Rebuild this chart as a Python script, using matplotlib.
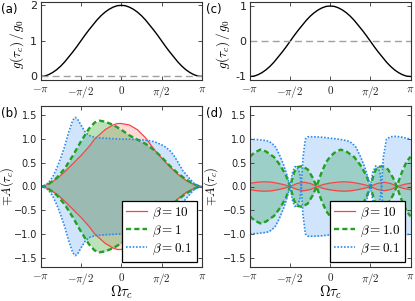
import numpy as np
import matplotlib
matplotlib.use("Agg")
import matplotlib.pyplot as plt

# ---------------- data (x in units of pi) ----------------
g_x = [-1.0, -0.95, -0.9, -0.85, -0.8, -0.75, -0.7, -0.65, -0.6, -0.55, -0.5,
       -0.45, -0.4, -0.35, -0.3, -0.25, -0.2, -0.15, -0.1, -0.05, 0.0,
       0.05, 0.1, 0.15, 0.2, 0.25, 0.3, 0.35, 0.4, 0.45, 0.5,
       0.55, 0.6, 0.65, 0.7, 0.75, 0.8, 0.85, 0.9, 0.95, 1.0]
g_a = [0.0, 0.01, 0.05, 0.11, 0.19, 0.29, 0.41, 0.55, 0.69, 0.84, 1.0,
       1.16, 1.31, 1.45, 1.59, 1.71, 1.81, 1.89, 1.95, 1.99, 2.0,
       1.99, 1.95, 1.89, 1.81, 1.71, 1.59, 1.45, 1.31, 1.16, 1.0,
       0.84, 0.69, 0.55, 0.41, 0.29, 0.19, 0.11, 0.05, 0.01, 0.0]
g_c = [-1.0, -0.99, -0.95, -0.89, -0.81, -0.71, -0.59, -0.45, -0.31, -0.16, 0.0,
       0.16, 0.31, 0.45, 0.59, 0.71, 0.81, 0.89, 0.95, 0.99, 1.0,
       0.99, 0.95, 0.89, 0.81, 0.71, 0.59, 0.45, 0.31, 0.16, 0.0,
       -0.16, -0.31, -0.45, -0.59, -0.71, -0.81, -0.89, -0.95, -0.99, -1.0]

# panel (b) upper envelopes A(tau_c)
b10_x = [-1.0, -0.95, -0.9, -0.8, -0.7, -0.6, -0.5, -0.4, -0.33, -0.2, -0.1, -0.05,
         0.0, 0.1, 0.2, 0.3, 0.4, 0.5, 0.6, 0.7, 0.8, 0.9, 0.95, 1.0]
b10_y = [0.0, 0.015, 0.05, 0.16, 0.31, 0.48, 0.65, 0.84, 1.0, 1.2, 1.3, 1.33,
         1.33, 1.3, 1.2, 1.03, 0.8, 0.6, 0.42, 0.26, 0.13, 0.04, 0.012, 0.0]
b1_x = [-1.0, -0.95, -0.9, -0.8, -0.7, -0.6, -0.5, -0.4, -0.33, -0.27, -0.2, -0.1,
        0.0, 0.1, 0.2, 0.3, 0.4, 0.5, 0.6, 0.7, 0.8, 0.9, 0.95, 1.0]
b1_y = [0.0, 0.012, 0.05, 0.18, 0.38, 0.65, 0.95, 1.22, 1.35, 1.39, 1.37, 1.3,
        1.2, 1.08, 0.99, 0.9, 0.78, 0.62, 0.44, 0.28, 0.15, 0.05, 0.015, 0.0]
b01_x = [-1.0, -0.95, -0.9, -0.85, -0.8, -0.75, -0.7, -0.65, -0.6, -0.57, -0.54, -0.5,
         -0.45, -0.4, -0.35, -0.3, -0.2, -0.1, 0.0, 0.1, 0.2, 0.3, 0.4, 0.45,
         0.5, 0.55, 0.6, 0.65, 0.7, 0.76, 0.85, 0.9, 0.95, 1.0]
b01_y = [0.0, 0.02, 0.08, 0.2, 0.38, 0.6, 0.85, 1.15, 1.4, 1.46, 1.42, 1.3,
         1.16, 1.08, 1.05, 1.03, 1.02, 1.01, 1.0, 1.0, 0.99, 0.98, 0.95, 0.92,
         0.88, 0.83, 0.76, 0.66, 0.52, 0.34, 0.16, 0.07, 0.015, 0.0]

# panel (d) upper envelopes
d10_x = [-1.0, -0.92, -0.83, -0.74, -0.66, -0.58, -0.5, -0.42, -0.33, -0.25, -0.16,
         -0.08, 0.0, 0.08, 0.17, 0.26, 0.34, 0.42, 0.5, 0.58, 0.67, 0.75, 0.84, 0.92, 1.0]
d10_y = [0.068, 0.088, 0.1, 0.093, 0.07, 0.04, 0.0, 0.06, 0.09, 0.065, 0.0,
         0.045, 0.072, 0.09, 0.1, 0.09, 0.068, 0.04, 0.0, 0.06, 0.09, 0.065, 0.0, 0.045, 0.068]
d1_x = [-1.0, -0.95, -0.87, -0.8, -0.7, -0.62, -0.55, -0.5, -0.45, -0.41, -0.35, -0.28,
        -0.22, -0.17, -0.13, -0.1, -0.05, 0.0, 0.05, 0.13, 0.2, 0.3, 0.38, 0.45,
        0.5, 0.55, 0.59, 0.65, 0.72, 0.78, 0.83, 0.87, 0.9, 0.95, 1.0]
d1_y = [0.63, 0.71, 0.78, 0.74, 0.62, 0.44, 0.23, 0.0, 0.3, 0.41, 0.43, 0.36,
        0.19, 0.0, 0.2, 0.33, 0.52, 0.63, 0.71, 0.78, 0.74, 0.62, 0.44, 0.23,
        0.0, 0.3, 0.41, 0.43, 0.36, 0.19, 0.0, 0.2, 0.33, 0.52, 0.63]
d01_x = [-1.0, -0.9, -0.8, -0.76, -0.72, -0.68, -0.62, -0.58, -0.55, -0.5, -0.47, -0.44,
         -0.41, -0.38, -0.36, -0.34, -0.31, -0.28, -0.2, -0.1, 0.0, 0.1, 0.2, 0.24,
         0.28, 0.32, 0.38, 0.42, 0.45, 0.5, 0.53, 0.57, 0.6, 0.62, 0.64, 0.66,
         0.7, 0.75, 0.82, 0.9, 0.95, 1.0]
d01_y = [1.0, 0.99, 0.97, 0.95, 0.9, 0.83, 0.62, 0.45, 0.3, 0.0, 0.3, 0.42,
         0.4, 0.28, 0.0, 0.6, 1.0, 1.05, 1.05, 1.04, 1.02, 1.0, 0.97, 0.95,
         0.9, 0.83, 0.62, 0.45, 0.3, 0.0, 0.3, 0.44, 0.4, 0.28, 0.0, 0.6,
         1.0, 1.05, 1.06, 1.04, 1.02, 1.0]

labels_b = [r"$\beta=10$", r"$\beta=1$", r"$\beta=0.1$"]
labels_d = [r"$\beta=10$", r"$\beta=1.0$", r"$\beta=0.1$"]
xtick_labels = [r"$-\pi$", r"$-\pi/2$", r"$0$", r"$\pi/2$", r"$\pi$"]

# ---------------- style ----------------
plt.rcParams.update({
    "font.family": ["DejaVu Sans"],
    "mathtext.fontset": "cm",
    "font.size": 7,
    "axes.linewidth": 0.8,
    "axes.edgecolor": "#333333",
    "xtick.direction": "in",
    "ytick.direction": "in",
    "xtick.top": True,
    "ytick.right": True,
    "xtick.major.size": 3,
    "ytick.major.size": 3,
    "xtick.major.width": 0.6,
    "ytick.major.width": 0.6,
    "xtick.color": "#333333",
    "ytick.color": "#333333",
    "xtick.labelcolor": "#222222",
    "ytick.labelcolor": "#222222",
    "xtick.major.pad": 3,
    "ytick.major.pad": 2.5,
})

RED = "#f84444"
GREEN = "#22a022"
BLUE = "#2a8cf0"
FILL_ALPHA = [0.2, 0.3, 0.22]

fig = plt.figure(figsize=(4.15, 3.01), dpi=100)
W, H = 415.0, 301.0

def add_ax(l, r, t, b):
    return fig.add_axes([l / W, 1 - b / H, (r - l) / W, (b - t) / H])

ax_a = add_ax(40.5, 202, 2.5, 80)
ax_b = add_ax(40.5, 202, 106, 267)
ax_c = add_ax(250, 410.5, 2.5, 80)
ax_d = add_ax(250, 410.5, 106, 267)

xt = np.array([-1.0, -0.5, 0.0, 0.5, 1.0]) * np.pi

for ax, g, yl, yt, ylx in [(ax_a, g_a, (-0.1, 2.08), [0, 1, 2], -0.09),
                           (ax_c, g_c, (-1.1, 1.1), [-1, 0, 1], -0.115)]:
    ax.plot(np.array(g_x) * np.pi, g, color="black", lw=1.0)
    ax.axhline(0, color="#a0a0a0", lw=1.0, dashes=(5, 3))
    ax.set_xlim(-np.pi, np.pi)
    ax.set_ylim(*yl)
    ax.set_yticks(yt)
    ax.set_yticklabels([str(v) for v in yt], fontsize=8)
    ax.set_xticks(xt)
    ax.set_xticklabels(xtick_labels, fontsize=8)
    ax.set_ylabel(r"$g(\tau_c)\,/\,g_0$", fontsize=9.5)
    ax.yaxis.set_label_coords(ylx, 0.47)

series_b = [(b10_x, b10_y), (b1_x, b1_y), (b01_x, b01_y)]
series_d = [(d10_x, d10_y), (d1_x, d1_y), (d01_x, d01_y)]
styles = [dict(color=RED, lw=0.9, ls="-"),
          dict(color=GREEN, lw=1.7, dashes=(2.2, 1.3)),
          dict(color=BLUE, lw=1.2, dashes=(1, 1))]
fills = [RED, GREEN, BLUE]

for ax, series, labs, ylx in [(ax_b, series_b, labels_b, -0.15),
                              (ax_d, series_d, labels_d, -0.185)]:
    handles = []
    for (sx, sy), fc, al in zip(series, fills, FILL_ALPHA):
        x = np.array(sx) * np.pi
        y = np.array(sy)
        ax.fill_between(x, -y, y, color=fc, alpha=al, lw=0)
    for (sx, sy), st, lab in zip(series, styles, labs):
        x = np.array(sx) * np.pi
        y = np.array(sy)
        h, = ax.plot(x, y, label=lab, **st)
        ax.plot(x, -y, **st)
        handles.append(h)
    ax.set_xlim(-np.pi, np.pi)
    ax.set_ylim(-1.7, 1.7)
    ax.set_yticks([-1.5, -1.0, -0.5, 0.0, 0.5, 1.0, 1.5])
    ax.set_yticklabels(["\u22121.5", "\u22121.0", "\u22120.5", "0.0", "0.5", "1.0", "1.5"])
    ax.set_xticks(xt)
    ax.set_xticklabels(xtick_labels, fontsize=8)
    ax.set_ylabel(r"$\mp A(\tau_c)$", fontsize=9)
    ax.yaxis.set_label_coords(ylx, 0.5)
    ax.set_xlabel(r"$\Omega\tau_c$", fontsize=10.5)
    ax.xaxis.set_label_coords(0.5, -0.1)
    leg = ax.legend(handles=handles, loc="lower right", fontsize=9.5,
                    frameon=True, fancybox=False, edgecolor="black",
                    framealpha=1, borderaxespad=0.4, handlelength=1.6,
                    handletextpad=0.35, labelspacing=0.2, borderpad=0.35)
    leg.get_frame().set_linewidth(0.9)

for lab, px, py in [("(a)", 1, 9), ("(b)", 1, 113), ("(c)", 206, 9), ("(d)", 206, 113)]:
    fig.text(px / W, 1 - py / H, lab, fontsize=8.5, ha="left", va="center")

fig.savefig("out.png", dpi=100)
